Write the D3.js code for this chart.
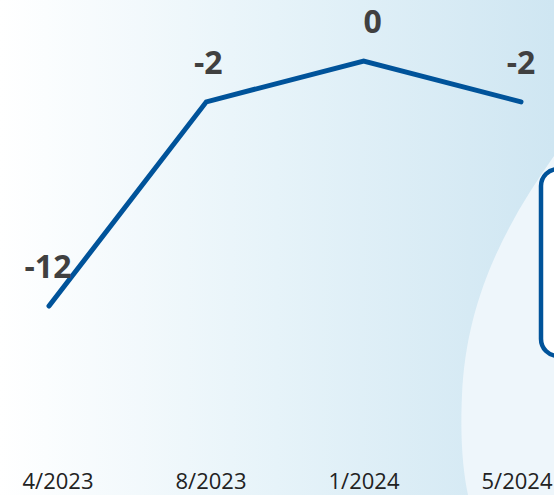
<!DOCTYPE html>
<html>
<head>
<meta charset="utf-8">
<script src="https://cdn.jsdelivr.net/npm/d3@7"></script>
<style>
  html, body { margin: 0; padding: 0; background: #fff; }
  svg { display: block; }
</style>
</head>
<body>
<div id="chart"></div>
<script>
// 資料
const months = ["4/2023", "8/2023", "1/2024", "5/2024"];
const values = [-12, -2, 0, -2];

const width = 554, height = 495;

const svg = d3.select("#chart").append("svg")
    .attr("width", width)
    .attr("height", height);

// 背景漸層
const defs = svg.append("defs");
const grad = defs.append("linearGradient")
    .attr("id", "bg")
    .attr("x1", "0%").attr("x2", "100%")
    .attr("y1", "0%").attr("y2", "0%");
grad.append("stop").attr("offset", "0%").attr("stop-color", "#ffffff");
grad.append("stop").attr("offset", "50%").attr("stop-color", "#e6f3f9");
grad.append("stop").attr("offset", "100%").attr("stop-color", "#cfe6f2");

svg.append("rect")
    .attr("width", width)
    .attr("height", height)
    .attr("fill", "url(#bg)");

// 右下角較淺的曲線區塊
svg.append("path")
    .attr("d", "M554,156 C505,225 466,300 462,395 C460,440 463,470 468,495 L554,495 Z")
    .attr("fill", "#eef6fb");

// 右側被裁切的圓角框
svg.append("rect")
    .attr("x", 541)
    .attr("y", 169)
    .attr("width", 60)
    .attr("height", 187)
    .attr("rx", 17)
    .attr("fill", "#ffffff")
    .attr("stroke", "#00539a")
    .attr("stroke-width", 4.5);

// 比例尺
const x = d3.scalePoint()
    .domain(months)
    .range([49, 521]);

const xLabel = d3.scalePoint()
    .domain(months)
    .range([58, 517]);

const y = d3.scaleLinear()
    .domain([-12, 0])
    .range([306, 61]);

// 折線
const line = d3.line()
    .x((d, i) => x(months[i]))
    .y(d => y(d));

svg.append("path")
    .datum(values)
    .attr("d", line)
    .attr("fill", "none")
    .attr("stroke", "#00539a")
    .attr("stroke-width", 5)
    .attr("stroke-linejoin", "miter")
    .attr("stroke-linecap", "round");

// 數值標籤
const dx = [-1, 2, 9, 0];
svg.selectAll(".val")
    .data(values)
    .enter()
    .append("text")
    .attr("class", "val")
    .attr("x", (d, i) => x(months[i]) + dx[i])
    .attr("y", d => y(d) - 28)
    .attr("text-anchor", "middle")
    .attr("font-family", "'Open Sans', 'Liberation Sans', sans-serif")
    .attr("font-weight", "bold")
    .attr("font-size", 32)
    .attr("fill", "#404040")
    .text(d => d);

// X 軸標籤
svg.selectAll(".month")
    .data(months)
    .enter()
    .append("text")
    .attr("class", "month")
    .attr("x", d => xLabel(d))
    .attr("y", 489)
    .attr("text-anchor", "middle")
    .attr("font-family", "'Open Sans', 'Liberation Sans', sans-serif")
    .attr("font-size", 22)
    .attr("fill", "#222222")
    .text(d => d);
</script>
</body>
</html>
